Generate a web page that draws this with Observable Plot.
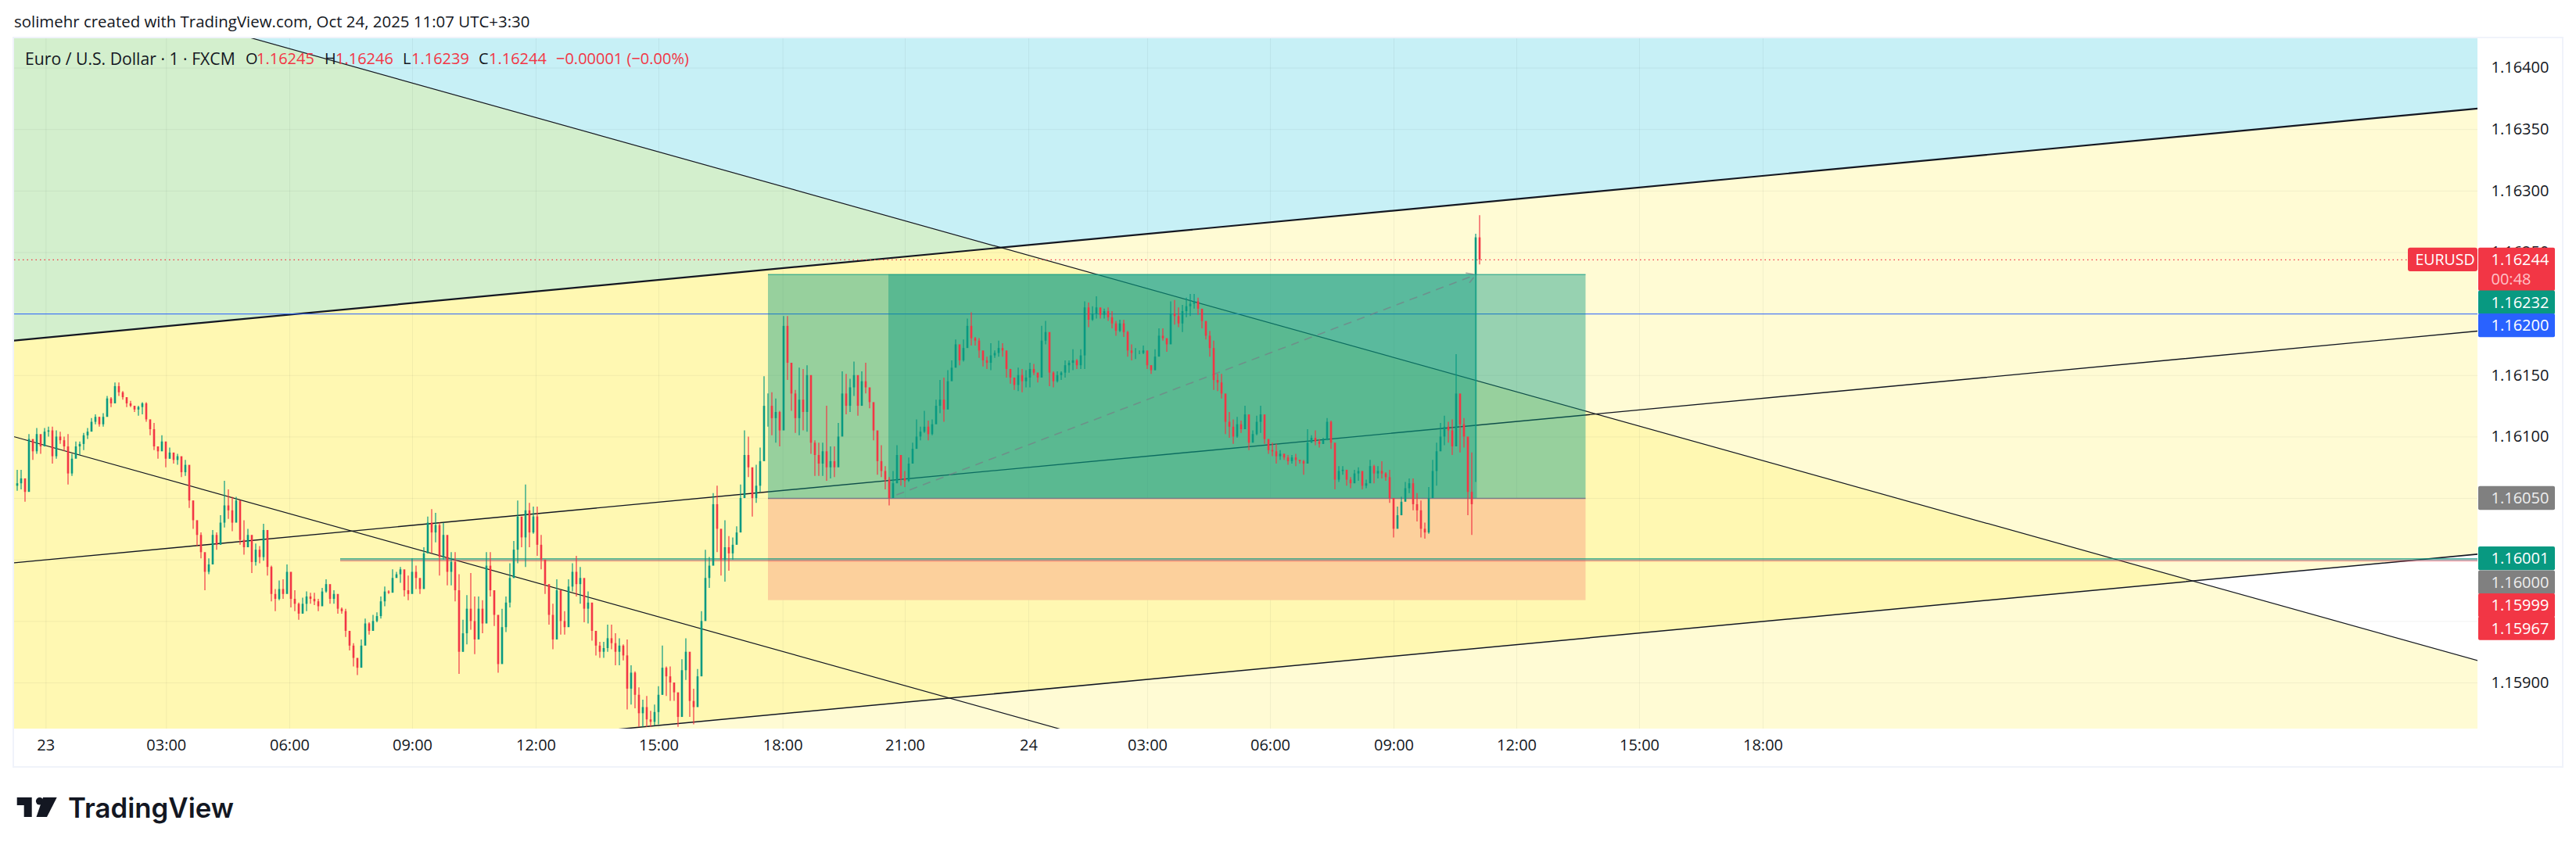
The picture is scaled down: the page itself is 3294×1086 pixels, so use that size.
<!DOCTYPE html>
<html>
<head>
<meta charset="utf-8">
<script src="https://cdn.jsdelivr.net/npm/d3@7"></script>
<script src="https://cdn.jsdelivr.net/npm/@observablehq/plot@0.6"></script>
<style>
html,body{margin:0;padding:0;background:#fff;width:3294px;overflow:hidden}
#title{height:47px;padding-left:18px;font:20.45px/54px "Open Sans",sans-serif;color:#131722;white-space:nowrap}
#wrap{position:relative;height:934px}
#wrap svg{display:block}
#frame{position:absolute;left:16px;top:0;width:3258px;height:931px;border:2px solid #f0f3fa;pointer-events:none}
#legend{position:absolute;left:32px;top:13px;font:20px/30px "Open Sans",sans-serif;color:#131722;white-space:nowrap}
#legend i{font-style:normal;font-size:21.2px;position:absolute;left:0}
#legend span{position:absolute}
#legend b{font-weight:400;color:#f23645;position:absolute;top:0}
#logo{height:105px;position:relative}
#logo svg{position:absolute;left:21px;top:38px}
#logo div{position:absolute;left:87px;top:27px;font:600 34.8px/50px "Inter",sans-serif;color:#131722}
</style>
</head>
<body>
<div id="title">solimehr created with TradingView.com, Oct 24, 2025 11:07 UTC+3:30</div>
<div id="wrap">
  <div id="frame"></div>
  <div id="legend"><i>Euro / U.S. Dollar · 1 · FXCM</i><span style="left:282px">O</span><b style="left:296px">1.16245</b><span style="left:383px">H</span><b style="left:397px">1.16246</b><span style="left:483px">L</span><b style="left:494px">1.16239</b><span style="left:580px">C</span><b style="left:593px">1.16244</b><b style="left:679px">−0.00001 (−0.00%)</b></div>
</div>
<div id="logo">
  <svg width="54" height="28" viewBox="0 0 54 28"><path fill="#131722" d="M0.7 1H19.7V26H9.7V11H0.7Z"/><circle cx="29.7" cy="5.8" r="4.8" fill="#131722"/><path fill="#131722" d="M34 1H51.7L39 26H25.5Z"/></svg>
  <div>TradingView</div>
</div>
<script>
// Each row: [high, low, close] in units of 0.00001 above 1, with an optional fourth value when the open differs from the previous close.
const session23Early = [
[16073,16056,16062],[16073,16057,16066],[16064,16047,16055],[16102,16081,16098],[16097,16081,16088],[16107,16086,16102],[16096,16086,16092],[16107,16093,16104],[16108,16100,16105],[16108,16078,16084],
[16105,16082,16100],[16104,16094,16097],[16100,16088,16092],[16102,16061,16070],[16086,16068,16082],[16096,16086,16092],[16096,16085,16094],[16103,16089,16101],[16107,16098,16104],[16115,16106,16112],
[16118,16110,16116],[16116,16108,16110],[16119,16108,16116],[16133,16118,16131],[16132,16124,16127],[16144,16130,16141],[16144,16133,16136],[16137,16130,16132],[16132,16124,16127],[16129,16124,16125],
[16125,16120,16122],[16125,16117,16124],[16128,16118,16127],[16128,16112,16114],[16112,16101,16106],[16111,16089,16092],[16092,16082,16088],[16101,16089,16096],[16093,16075,16082],[16091,16082,16087],
[16085,16078,16081],[16086,16077,16084],[16077,16067,16071],[16081,16068,16077],[16074,16042,16048],[16048,16025,16032],[16030,16011,16020],[16022,16001,16006],[16001,15975,15990],[16001,15988,15996],
[16024,16004,16020],[16022,16008,16012],[16036,16014,16030],[16064,16026,16044],[16057,16033,16040],[16051,16023,16030],[16051,16031,16048],[16030,16012,16016],[16032,16004,16010],[16025,16010,16020],
[16005,15989,15998],[16013,15995,16008],[16011,15997,16002],[16029,15999,16024],[16014,15987,15994],[15995,15966,15972],[15976,15958,15968],[15983,15967,15976],[15984,15968,15972],[15996,15978,15990],
[15981,15961,15968],[15975,15958,15964],[15965,15951,15956],[15969,15956,15964],[15974,15958,15970],[15973,15964,15968],[15973,15963,15966],[15968,15958,15962],[15977,15964,15974],[15984,15973,15980],
[15975,15964,15968],[15975,15964,15972],[15970,15956,15960],[15961,15956,15958],[15960,15937,15942],[15937,15926,15930],[15932,15913,15920],[15919,15906,15912],[15935,15914,15930],[15952,15934,15948],
[15949,15939,15942],[15955,15942,15950],[15957,15949,15954],[15970,15952,15966],[15978,15962,15974],[15975,15972,15973]
];
const session23Midday = [
[15992,15978,15985],[15990,15986,15988],[15994,15981,15992],[15983,15970,15975],[15987,15967,15972],[16001,15981,15990],[15995,15976,15985],[15979,15972,15976],[16010,15987,16005],[16035,16010,16030],
[16041,16005,16022],[16038,16014,16028],[16030,15987,16002],[16030,16000,16020],[16014,15979,15990],[16006,15979,15998],[16006,15966,15975],[15988,15907,15925],[15951,15925,15940],[15971,15931,15960],
[15989,15943,15950],[15970,15923,15935],[15970,15938,15960],[15967,15940,15948],[16006,15958,15995],[16006,15970,15975],[15968,15946,15955],[15935,15908,15915],[15960,15927,15945],[15970,15941,15965],
[15997,15961,15985],[16015,15985,16008],[16048,15997,16035],[16028,16010,16018],[16061,15994,16040],[16046,16010,16022],[16043,16021,16035],[16043,16003,16012],[16020,15992,16000],[15994,15972,15980],
[15972,15947,15955],[15964,15927,15935],[15984,15956,15975],[15970,15939,15950],[15958,15939,15945],[15984,15968,15978],[15997,15974,15990],[16003,15970,15980],[15994,15964,15985],[15974,15949,15960],
[15974,15948,15965],[15956,15934,15942],[15942,15922,15930],[15933,15920,15925],[15933,15920,15928],[15947,15925,15936],[15947,15927,15932],[15940,15914,15925],[15936,15914,15930],[15931,15918,15922],
[15935,15878,15895],[15914,15882,15908],[15909,15879,15890],[15896,15864,15875],[15886,15864,15880],[15889,15864,15870],[15877,15864,15868],[15882,15865,15876],[15897,15866,15890],[15930,15890,15912],
[15913,15889,15905],[15913,15885,15900],[15899,15885,15892],[15885,15864,15872],[15919,15885,15910],[15936,15902,15925],[15923,15872,15885],[15895,15866,15880],[15911,15891,15905],[15958,15911,15950],
[16008,15962,15985],[16002,15977,15995],[16054,16014,16045],[16060,16006,16025],[16019,15987,16000],[16032,15982,16010],[16019,15991,16005],[16018,16000,16012],[16027,16014,16022],[16061,16033,16050],
[16105,16064,16085],[16100,16067,16075],[16071,16035,16050],[16077,16046,16060],[16091,16055,16080],[16149,16102,16125],[16135,16108,16125],[16136,16101,16115],[16131,16095,16120],[16121,16092,16105]
];
const session23Evening = [
[16198,16158,16190],[16198,16146,16160],[16160,16121,16135],[16138,16103,16115],[16156,16101,16130],[16155,16105,16120],[16158,16104,16150],[16130,16086,16095],[16097,16068,16085],[16095,16068,16078],
[16095,16068,16088],[16125,16064,16075],[16092,16066,16080],[16092,16067,16075],[16111,16076,16100],[16153,16110,16135],[16151,16118,16125],[16147,16120,16140],[16161,16133,16150],[16142,16117,16125],
[16153,16130,16145],[16160,16135,16140],[16139,16123,16128],[16121,16097,16105],[16097,16069,16080],[16093,16067,16072],[16076,16057,16065],[16067,16044,16050],[16072,16054,16062],[16093,16064,16085],
[16073,16060,16066],[16072,16059,16064],[16083,16063,16078],[16095,16079,16090],[16114,16097,16100],[16108,16097,16104],[16121,16103,16108],[16113,16097,16102],[16114,16101,16110],[16130,16114,16125],
[16146,16119,16130],[16148,16112,16122],[16154,16131,16145],[16162,16149,16156],[16179,16158,16175],[16168,16158,16162],[16179,16161,16172],[16196,16174,16190],[16201,16174,16180],[16181,16174,16178],
[16180,16164,16170],[16168,16157,16162],[16165,16155,16160],[16176,16154,16166],[16170,16164,16168],[16178,16165,16172],[16176,16165,16170],[16167,16148,16155],[16151,16143,16148],[16148,16138,16142],
[16156,16137,16150],[16155,16136,16145],[16154,16140,16148],[16160,16140,16155],[16159,16150,16152],[16152,16144,16148],[16190,16154,16178],[16194,16175,16185],[16183,16141,16152],[16153,16140,16145],
[16153,16144,16150],[16153,16146,16152],[16162,16148,16158],[16162,16152,16160],[16171,16154,16162],[16163,16155,16158],[16171,16155,16166],[16210,16155,16205],[16209,16189,16195],[16206,16194,16200],
[16214,16196,16205],[16204,16196,16199],[16204,16196,16202],[16205,16194,16197],[16202,16188,16192],[16194,16182,16186],[16195,16185,16192],[16195,16181,16185],[16186,16165,16170],[16175,16162,16168]
];
const session24Morning = [
[16172,16163,16168],[16170,16167,16168],[16174,16167,16170],[16164,16155,16158],[16158,16151,16154],[16171,16154,16165],[16188,16171,16182],[16188,16178,16180],[16179,16169,16175],[16210,16185,16200],
[16211,16191,16198],[16205,16189,16192],[16207,16185,16202],[16213,16197,16206],[16216,16198,16208],[16216,16204,16210],[16213,16199,16204],[16202,16188,16194],[16188,16179,16182],[16186,16165,16172],
[16178,16138,16146],[16151,16137,16144],[16151,16131,16135],[16131,16102,16112],[16120,16099,16108],[16114,16094,16100],[16116,16099,16110],[16113,16103,16106],[16125,16110,16118],[16112,16089,16095],
[16105,16099,16102],[16117,16101,16112],[16125,16103,16118],[16114,16094,16098],[16095,16086,16089],[16095,16084,16088],[16094,16078,16084],[16089,16081,16086],[16086,16081,16083],[16085,16077,16080],
[16085,16078,16083],[16086,16076,16081],[16081,16078,16080],[16081,16069,16078],[16106,16084,16095],[16101,16095,16099],[16105,16093,16096],[16098,16091,16094],[16099,16094,16097],[16115,16099,16112],
[16113,16090,16095],[16090,16057,16065],[16076,16063,16072],[16076,16069,16073],[16072,16060,16065],[16067,16058,16062],[16073,16064,16070],[16075,16064,16072],[16067,16057,16060],[16065,16058,16062],
[16081,16063,16076],[16077,16062,16070],[16076,16066,16072],[16080,16066,16070],[16071,16064,16067],[16073,16046,16050],[16046,16018,16025],[16043,16032,16036],[16051,16039,16047],[16063,16050,16058],
[16066,16054,16062],[16066,16040,16045],[16054,16031,16040],[16048,16018,16025],[16030,16017,16022],[16059,16021,16050],[16081,16059,16072],[16095,16060,16088],[16111,16091,16100],[16117,16093,16108],
[16112,16095,16105],[16114,16085,16092],[16167,16114,16135],[16125,16087,16110],[16115,16091,16100],[16093,16036,16055],[16087,16020,16045],[16265,16063,16262,16232],[16280,16240,16244]
];

// Price axis and time axis
const gridPrices = [1.164,1.1635,1.163,1.1625,1.162,1.1615,1.161,1.1605,1.16,1.1595,1.159];
const axisPrices = [1.164,1.1635,1.163,1.1625,1.1615,1.161,1.159];
const timeLabels = ["23","03:00","06:00","09:00","12:00","15:00","18:00","21:00","24","03:00","06:00","09:00","12:00","15:00","18:00"];
const timePositions = [7.36,38.16,69.7,101.1,132.7,164.1,195.84,227.1,258.7,289.1,320.5,352.1,383.5,414.9,446.5];
const xDomain = [-0.7,629.3];
const yDomain = [1.158625,1.164245];

// Drawn trend lines: price at the left and right ends of the x domain
const channelTop    = [1.161784,1.163671];
const channelMiddle = [1.159977,1.161861];
const channelBottom = [1.158161,1.160047];
const fallingUpper  = [1.164783,1.159181];
const fallingLower  = [1.161001,1.155402];
const farAbove = 1.17, farBelow = 1.15;

// Long position tool
const entry = 1.1605, target = 1.16232, stop = 1.15967;
const positionSpan = [192.1,401.2];
const activeSpan = [222.9,373.4];
const pathFrom = [225,1.16053], pathTo = [373.1,1.16232];

// Horizontal levels
const levelLast = 1.16244, levelBlue = 1.162;
const bundleLevels = [1.15999,1.16,1.16001];
const bundleStart = 82.7;

// Price tags on the axis
const tagValues = [1.16244,1.16244,1.16232,1.162,1.1605,1.16001,1.16,1.15999,1.15967];
const tagLabels = ["1.16244","00:48","1.16232","1.16200","1.16050","1.16001","1.16000","1.15999","1.15967"];
const tagColors = ["#f23645","#f23645","#089981","#2962ff","#808080","#089981","#808080","#f23645","#f23645"];
const tagShift  = [0,25,36,15,0,0,29,57,36];
const tagTextTone = ["#fff","#ffc2c8","#fff","#fff","#eee","#fff","#eee","#fff","#fff"];

const red = "#f23645", teal = "#089981";
const sessions = [session23Early,session23Midday,session23Evening,session24Morning];
let prevClose = 16060;
const candles = sessions.flat().map(([h,l,c,o],i)=>{
  const row = {i,high:1+h/1e5,low:1+l/1e5,open:1+(o ?? prevClose)/1e5,close:1+c/1e5};
  prevClose = c;
  return row;
});
const band = (upper,lower)=>[
  {x:xDomain[0],y1:upper[0],y2:lower[0]},
  {x:xDomain[1],y1:upper[1],y2:lower[1]}
];
const line = ends => [{x:xDomain[0],y:ends[0]},{x:xDomain[1],y:ends[1]}];
const yellow = "#ffeb3b", yellowOp = 0.22;
const halfTag = 15.2/157300;
const tagX = [629.5,649.1], tagTextX = 632.7;

const chart = Plot.plot({
  width:3294,height:934,
  marginLeft:18,marginRight:126,marginTop:1,marginBottom:49,
  style:{fontFamily:"Open Sans",fontSize:"20px",background:"transparent",color:"#131722"},
  x:{domain:xDomain},
  y:{domain:yDomain},
  color:{type:"identity"},
  marks:[
    Plot.areaY(band([farAbove,farAbove],channelTop),{x:"x",y1:"y1",y2:"y2",fill:"#00bcd4",fillOpacity:0.22,clip:true}),
    Plot.areaY(band(channelTop,channelBottom),{x:"x",y1:"y1",y2:"y2",fill:yellow,fillOpacity:yellowOp,clip:true}),
    Plot.areaY(band(fallingUpper,[farBelow,farBelow]),{x:"x",y1:"y1",y2:"y2",fill:yellow,fillOpacity:yellowOp,clip:true}),
    Plot.gridY(gridPrices,{stroke:"#2a2e39",strokeOpacity:0.06}),
    Plot.gridX(timePositions,{stroke:"#2a2e39",strokeOpacity:0.06}),
    Plot.line(line(channelTop),{x:"x",y:"y",stroke:"#131722",strokeWidth:2.2,clip:true}),
    Plot.line(line(channelMiddle),{x:"x",y:"y",stroke:"#131722",strokeWidth:1.4,clip:true}),
    Plot.line(line(channelBottom),{x:"x",y:"y",stroke:"#131722",strokeWidth:1.5,clip:true}),
    Plot.line(line(fallingUpper),{x:"x",y:"y",stroke:"#131722",strokeWidth:1.2,clip:true}),
    Plot.line(line(fallingLower),{x:"x",y:"y",stroke:"#131722",strokeWidth:1.2,clip:true}),
    Plot.ruleY([levelBlue],{stroke:"#2962ff",strokeWidth:1}),
    Plot.rect([{a:positionSpan[0],b:positionSpan[1],t:entry,u:stop}],{x1:"a",x2:"b",y1:"t",y2:"u",fill:"#fcd09c"}),
    Plot.rect([{a:positionSpan[0],b:positionSpan[1],t:target,u:entry}],{x1:"a",x2:"b",y1:"t",y2:"u",fill:teal,fillOpacity:0.42}),
    Plot.rect([{a:activeSpan[0],b:activeSpan[1],t:target,u:entry}],{x1:"a",x2:"b",y1:"t",y2:"u",fill:teal,fillOpacity:0.42}),
    Plot.ruleY([target],{x1:positionSpan[0],x2:positionSpan[1],stroke:teal,strokeOpacity:.55,strokeWidth:1.5}),
    Plot.ruleY([entry],{x1:positionSpan[0],x2:positionSpan[1],stroke:"#787b86",strokeWidth:1.5}),
    Plot.arrow([{x1:pathFrom[0],y1:pathFrom[1],x2:pathTo[0],y2:pathTo[1]}],{x1:"x1",y1:"y1",x2:"x2",y2:"y2",stroke:"#787b86",strokeOpacity:.65,strokeWidth:1.6,strokeDasharray:"9 9",headLength:12,bend:0}),
    Plot.ruleY([levelLast],{stroke:red,strokeWidth:1.3,strokeDasharray:"1.5 4"}),
    Plot.ruleY([bundleLevels[0]],{x1:bundleStart,x2:xDomain[1],stroke:red,strokeOpacity:.5,strokeWidth:1}),
    Plot.ruleY([bundleLevels[1]],{x1:bundleStart,x2:xDomain[1],stroke:"#787b86",strokeWidth:1}),
    Plot.ruleY([bundleLevels[2]],{x1:bundleStart,x2:xDomain[1],stroke:teal,strokeOpacity:.7,strokeWidth:1.5}),
    Plot.ruleX(candles,{x:"i",y1:"low",y2:"high",stroke:d=>d.close>=d.open?teal:red,strokeWidth:1.2,clip:true}),
    Plot.ruleX(candles,{x:"i",y1:"open",y2:"close",stroke:d=>d.close>=d.open?teal:red,strokeWidth:2.6,clip:true}),
    Plot.axisY(axisPrices,{anchor:"right",tickSize:0,tickPadding:17,label:null,tickFormat:d=>d.toFixed(5),fill:"#131722"}),
    Plot.axisX(timePositions,{anchor:"bottom",tickSize:0,tickPadding:13,label:null,tickFormat:d=>timeLabels[timePositions.indexOf(d)],fill:"#131722"}),
    Plot.rect([{a:611.5,b:629.3,t:levelLast+halfTag,u:levelLast-halfTag}],{x1:"a",x2:"b",y1:"t",y2:"u",fill:red,rx:3}),
    Plot.text(["EURUSD"],{x:613.3,y:levelLast,text:d=>d,fill:"#fff",textAnchor:"start",fontSize:19.5}),
    ...tagValues.map((v,k)=>Plot.rect([{a:tagX[0],b:tagX[1],t:v+halfTag,u:v-halfTag}],{x1:"a",x2:"b",y1:"t",y2:"u",fill:tagColors[k],dy:tagShift[k],rx:2})),
    ...tagValues.map((v,k)=>Plot.text([tagLabels[k]],{x:tagTextX,y:v,text:d=>d,fill:tagTextTone[k],dy:tagShift[k],textAnchor:"start"}))
  ]
});
document.getElementById("wrap").prepend(chart);
</script>
</body>
</html>
